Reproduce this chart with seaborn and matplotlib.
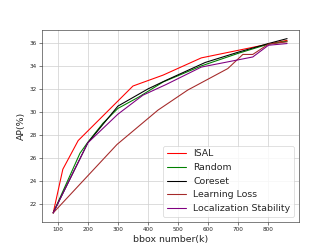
import pandas as pd
import seaborn as sns
import matplotlib
matplotlib.use("Agg")
import matplotlib.pyplot as plt

# valeurs (bbox en milliers, AP en %)
isal_x = [85, 117, 168, 350, 450, 577, 670, 800, 862]
isal_y = [21.2, 25.0, 27.5, 32.25, 33.2, 34.7, 35.2, 35.9, 36.23]

random_x = [85, 174, 200, 250, 300, 370, 450, 577, 700, 800, 862]
random_y = [21.2, 26.4, 27.35, 29.0, 30.3, 31.3, 32.6, 34.0, 35.1, 35.9, 36.15]

coreset_x = [85, 200, 300, 400, 460, 590, 700, 800, 862]
coreset_y = [21.2, 27.3, 30.5, 32.0, 32.75, 34.3, 35.2, 35.95, 36.38]

ll_x = [85, 297, 433, 532, 665, 715, 748, 800, 862]
ll_y = [21.2, 27.16, 30.15, 31.9, 33.77, 35.0, 35.0, 35.9, 36.1]

ls_x = [85, 200, 300, 383, 460, 577, 748, 800, 862]
ls_y = [21.2, 27.3, 29.8, 31.45, 32.38, 33.9, 34.78, 35.8, 35.95]

methods = ["ISAL", "Random", "Coreset", "Learning Loss", "Localization Stability"]
colors = ["red", "green", "black", "brown", "purple"]

series = {
    "ISAL": (isal_x, isal_y),
    "Random": (random_x, random_y),
    "Coreset": (coreset_x, coreset_y),
    "Learning Loss": (ll_x, ll_y),
    "Localization Stability": (ls_x, ls_y),
}

sns.set_style("ticks", {"axes.grid": True})
plt.rcParams["font.family"] = ["DejaVu Sans"]

fig, ax = plt.subplots(figsize=(6.4, 4.8), dpi=51.875)

# une courbe par méthode
for name, col in zip(methods, colors):
    xs, ys = series[name]
    d = pd.DataFrame({"bbox": xs, "AP": ys})
    sns.lineplot(data=d, x="bbox", y="AP", color=col, legend=False,
                 sort=False, estimator=None, linewidth=1.5, ax=ax)

ax.set_xticks([100, 200, 300, 400, 500, 600, 700, 800])
ax.set_yticks([22, 24, 26, 28, 30, 32, 34, 36])
ax.set_xlabel("bbox number(k)", fontsize=13)
ax.set_ylabel("AP(%)", fontsize=13)
ax.tick_params(labelsize=8)
ax.grid(True, color="#d0d0d0", linewidth=1)
ax.legend(ax.lines[:len(methods)], methods, loc="lower right", fontsize=13)

fig.subplots_adjust(left=0.125, right=0.9, bottom=0.11, top=0.88)
fig.savefig("out.png", dpi=51.875)
